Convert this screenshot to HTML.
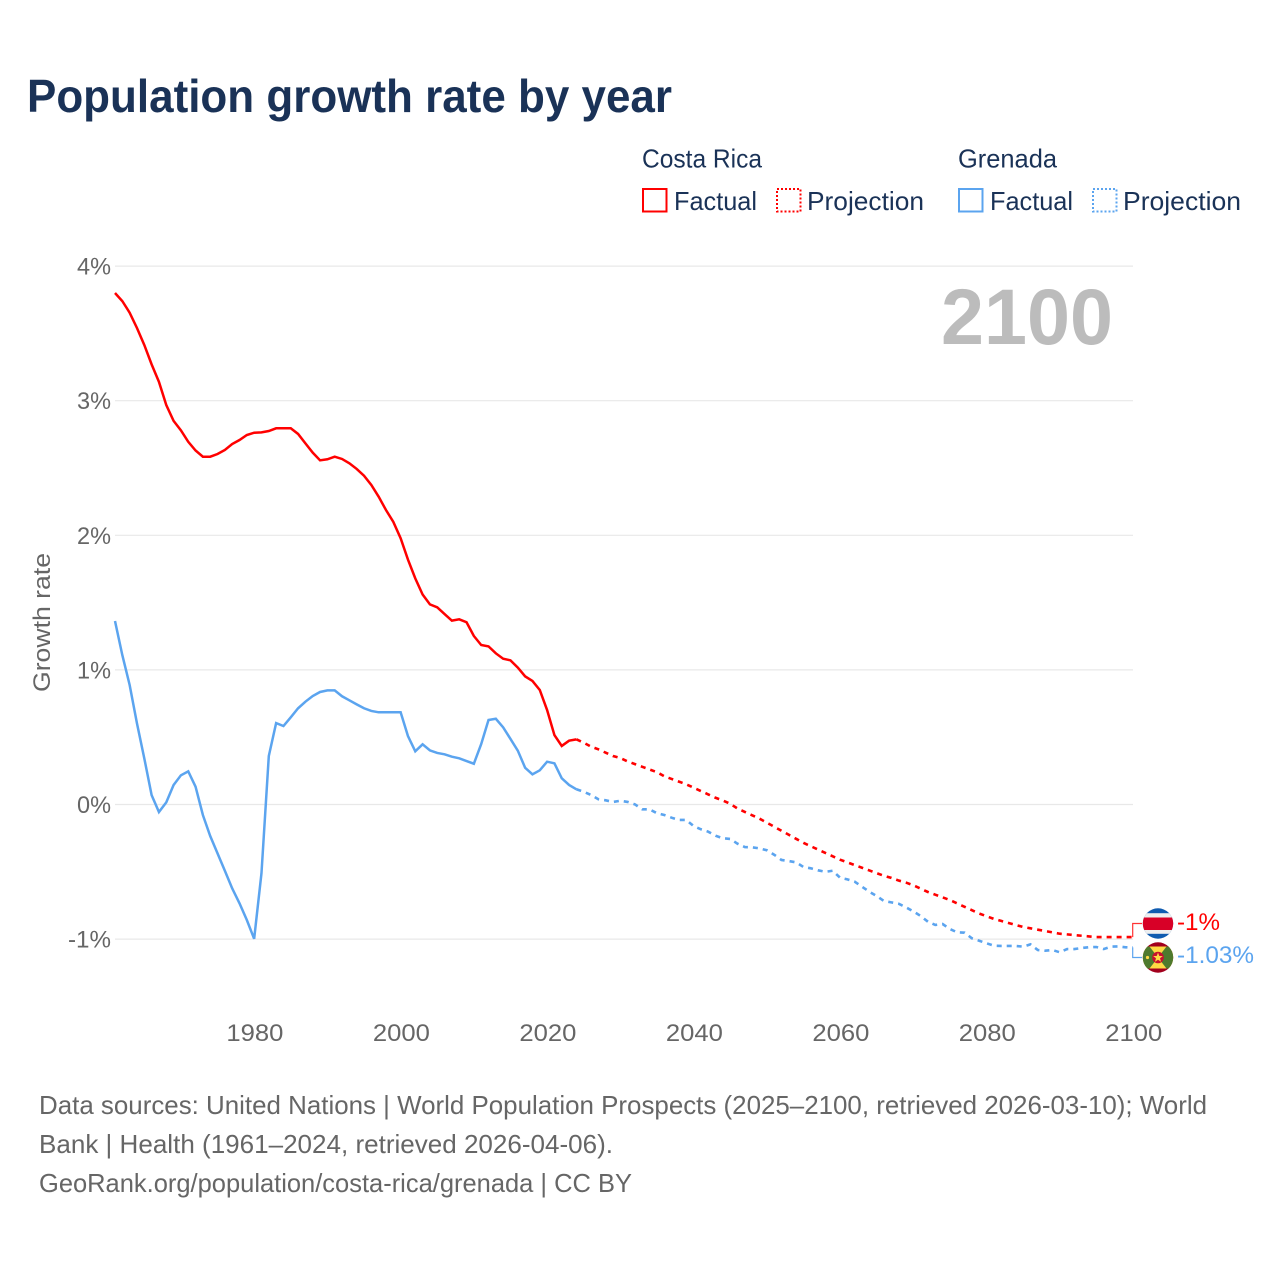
<!DOCTYPE html>
<html lang="en">
<head>
<meta charset="utf-8">
<title>Population growth rate by year</title>
<style>
html,body{margin:0;padding:0;background:#fff;}
svg{display:block;font-family:"Liberation Sans",sans-serif;}
</style>
</head>
<body>
<svg id="chart" width="1280" height="1280" viewBox="0 0 1280 1280" xmlns="http://www.w3.org/2000/svg">
  <rect width="1280" height="1280" fill="#ffffff"/>
  <text x="27" y="112" font-size="46" font-weight="700" fill="#1a3257" textLength="645" lengthAdjust="spacingAndGlyphs">Population growth rate by year</text>

  <g>
    <text x="642" y="167.5" font-size="26" fill="#1a3257" textLength="120" lengthAdjust="spacingAndGlyphs">Costa Rica</text>
    <text x="958" y="167.5" font-size="26" fill="#1a3257" textLength="99" lengthAdjust="spacingAndGlyphs">Grenada</text>
    <rect x="643" y="189" width="23.5" height="22.5" fill="none" stroke="#ff0000" stroke-width="2"/>
    <text x="674" y="210" font-size="26" fill="#1a3257" textLength="83" lengthAdjust="spacingAndGlyphs">Factual</text>
    <rect x="777" y="189" width="23.5" height="22.5" fill="none" stroke="#ff0000" stroke-width="2" stroke-dasharray="2 2"/>
    <text x="807" y="210" font-size="26" fill="#1a3257" textLength="117" lengthAdjust="spacingAndGlyphs">Projection</text>
    <rect x="959" y="189" width="23.5" height="22.5" fill="none" stroke="#5ba4ef" stroke-width="2"/>
    <text x="990" y="210" font-size="26" fill="#1a3257" textLength="83" lengthAdjust="spacingAndGlyphs">Factual</text>
    <rect x="1093" y="189" width="23.5" height="22.5" fill="none" stroke="#5ba4ef" stroke-width="2" stroke-dasharray="2 2"/>
    <text x="1123" y="210" font-size="26" fill="#1a3257" textLength="118" lengthAdjust="spacingAndGlyphs">Projection</text>
  </g>

  <text x="1113" y="344" text-anchor="end" font-size="79" font-weight="700" fill="#bcbcbc" textLength="172" lengthAdjust="spacingAndGlyphs">2100</text>
  <text transform="translate(50 692) rotate(-90)" font-size="24" fill="#666666" textLength="139" lengthAdjust="spacingAndGlyphs">Growth rate</text>

  <g id="grid"></g>
  <g id="yticks"></g>
  <g id="xticks"></g>
  <g id="series"></g>
  <g id="connectors"></g>

  <defs>
    <clipPath id="crClip"><circle cx="1158" cy="923.5" r="15.2"/></clipPath>
    <clipPath id="grClip"><circle cx="1158" cy="957.5" r="15.2"/></clipPath>
  </defs>
  <g clip-path="url(#crClip)">
    <rect x="1142" y="908" width="32" height="31" fill="#0f5bb0"/>
    <rect x="1142" y="913.2" width="32" height="20.6" fill="#eeeeee"/>
    <rect x="1142" y="917.5" width="32" height="12.5" fill="#d80027"/>
  </g>
  <g clip-path="url(#grClip)">
    <rect x="1142" y="942" width="32" height="31" fill="#a2001d"/>
    <rect x="1142" y="946.5" width="32" height="22" fill="#ffda44"/>
    <polygon points="1142,946.5 1149.5,946.5 1158,957.5 1149.5,968.5 1142,968.5" fill="#4e7a2e"/>
    <polygon points="1174,946.5 1166.5,946.5 1158,957.5 1166.5,968.5 1174,968.5" fill="#4e7a2e"/>
    <circle cx="1158" cy="957.5" r="5.8" fill="#c8102e"/>
    <polygon points="1158,952.6 1159.3,956 1162.8,956 1160,958.2 1161,961.8 1158,959.7 1155,961.8 1156,958.2 1153.2,956 1156.7,956" fill="#ffda44"/>
    <circle cx="1147.5" cy="957.5" r="1.6" fill="#ffda44"/>
  </g>

  <g>
    <text x="39" y="1114" font-size="26" fill="#666666" textLength="1168" lengthAdjust="spacingAndGlyphs">Data sources: United Nations | World Population Prospects (2025–2100, retrieved 2026-03-10); World</text>
    <text x="39" y="1153" font-size="26" fill="#666666" textLength="574" lengthAdjust="spacingAndGlyphs">Bank | Health (1961–2024, retrieved 2026-04-06).</text>
    <text x="39" y="1192" font-size="26" fill="#666666" textLength="593" lengthAdjust="spacingAndGlyphs">GeoRank.org/population/costa-rica/grenada | CC BY</text>
  </g>
</svg>

<script>
const yTickValues = [4, 3, 2, 1, 0, -1];
const xTickYears = [1980, 2000, 2020, 2040, 2060, 2080, 2100];
const factualStartYear = 1961;
const projectionStartYear = 2024;

const costaRicaFactual = [3.80,3.74,3.654,3.54,3.414,3.27,3.14,2.968,2.85,2.78,2.695,2.63,2.584,2.584,2.604,2.634,2.678,2.708,2.745,2.762,2.765,2.775,2.795,2.795,2.795,2.753,2.683,2.614,2.557,2.565,2.584,2.567,2.535,2.493,2.443,2.374,2.287,2.188,2.10,1.978,1.82,1.68,1.56,1.487,1.465,1.415,1.366,1.376,1.354,1.252,1.185,1.175,1.123,1.083,1.071,1.017,0.952,0.918,0.851,0.702,0.516,0.435,0.474,0.484];
const costaRicaProjection = [0.484,0.459,0.43,0.41,0.385,0.36,0.345,0.32,0.30,0.28,0.26,0.24,0.21,0.19,0.17,0.15,0.125,0.10,0.075,0.05,0.03,0.005,-0.03,-0.055,-0.08,-0.105,-0.135,-0.165,-0.195,-0.225,-0.255,-0.285,-0.31,-0.335,-0.36,-0.385,-0.41,-0.43,-0.45,-0.47,-0.49,-0.51,-0.53,-0.545,-0.565,-0.58,-0.60,-0.625,-0.65,-0.67,-0.69,-0.71,-0.735,-0.76,-0.785,-0.81,-0.83,-0.85,-0.865,-0.88,-0.895,-0.91,-0.92,-0.93,-0.94,-0.95,-0.96,-0.965,-0.97,-0.975,-0.98,-0.985,-0.985,-0.985,-0.985,-0.985,-0.985];

const grenadaFactual = [1.363,1.11,0.888,0.603,0.343,0.07,-0.056,0.016,0.145,0.217,0.246,0.132,-0.078,-0.234,-0.363,-0.492,-0.623,-0.734,-0.858,-0.998,-0.511,0.36,0.605,0.583,0.648,0.715,0.764,0.806,0.836,0.848,0.848,0.804,0.774,0.744,0.715,0.695,0.685,0.685,0.685,0.685,0.509,0.395,0.447,0.402,0.383,0.373,0.355,0.343,0.323,0.303,0.449,0.628,0.637,0.573,0.487,0.40,0.273,0.224,0.254,0.318,0.306,0.195,0.145,0.113];
const grenadaProjection = [0.113,0.095,0.071,0.039,0.031,0.019,0.028,0.019,0.001,-0.036,-0.036,-0.065,-0.078,-0.098,-0.115,-0.115,-0.16,-0.184,-0.202,-0.232,-0.251,-0.256,-0.291,-0.316,-0.318,-0.326,-0.34,-0.373,-0.412,-0.42,-0.43,-0.464,-0.474,-0.489,-0.50,-0.492,-0.544,-0.556,-0.573,-0.611,-0.648,-0.68,-0.717,-0.727,-0.737,-0.764,-0.794,-0.828,-0.871,-0.895,-0.888,-0.925,-0.95,-0.952,-0.994,-1.012,-1.031,-1.049,-1.051,-1.051,-1.051,-1.056,-1.039,-1.081,-1.086,-1.081,-1.098,-1.074,-1.074,-1.066,-1.06,-1.059,-1.074,-1.056,-1.054,-1.061,-1.062];

const costaRicaEndLabel = "-1%";
const grenadaEndLabel = "-1.03%";

const SVG_NS = "http://www.w3.org/2000/svg";
const xScale = function (year) { return 115 + (year - 1961) * (1018 / 139); };
const yScale = function (value) { return 804.5 - value * 134.6; };

function make(tag, parentId) {
  const el = document.createElementNS(SVG_NS, tag);
  document.getElementById(parentId).appendChild(el);
  return el;
}

function linePoints(values, startYear) {
  return values.map(function (v, i) {
    return xScale(startYear + i).toFixed(2) + "," + yScale(v).toFixed(2);
  }).join(" ");
}

yTickValues.forEach(function (tick) {
  const line = make("line", "grid");
  line.setAttribute("x1", xScale(1961));
  line.setAttribute("x2", xScale(2100));
  line.setAttribute("y1", yScale(tick));
  line.setAttribute("y2", yScale(tick));
  line.setAttribute("stroke", "#e8e8e8");
  line.setAttribute("stroke-width", "1.2");
  
  

  const label = make("text", "yticks");
  label.textContent = tick + "%";
  label.setAttribute("x", 111);
  label.setAttribute("y", yScale(tick) + 8.5);
  label.setAttribute("text-anchor", "end");
  label.setAttribute("font-size", "24");
  label.setAttribute("fill", "#666666");
  label.setAttribute("textLength", tick < 0 ? 43 : 34);
  label.setAttribute("lengthAdjust", "spacingAndGlyphs");
  
  
});

xTickYears.forEach(function (year) {
  const label = make("text", "xticks");
  label.textContent = year;
  label.setAttribute("x", xScale(year) + 0.8);
  label.setAttribute("y", 1041);
  label.setAttribute("text-anchor", "middle");
  label.setAttribute("font-size", "24");
  label.setAttribute("fill", "#666666");
  label.setAttribute("textLength", 57);
  label.setAttribute("lengthAdjust", "spacingAndGlyphs");
  
  
});

const crFactualLine = make("polyline", "series");
crFactualLine.setAttribute("points", linePoints(costaRicaFactual, factualStartYear));
crFactualLine.setAttribute("fill", "none");
crFactualLine.setAttribute("stroke", "#ff0000");
crFactualLine.setAttribute("stroke-width", "2.5");



const crProjectionLine = make("polyline", "series");
crProjectionLine.setAttribute("points", linePoints(costaRicaProjection, projectionStartYear));
crProjectionLine.setAttribute("fill", "none");
crProjectionLine.setAttribute("stroke", "#ff0000");
crProjectionLine.setAttribute("stroke-width", "2.6");
crProjectionLine.setAttribute("stroke-dasharray", "5 5");



const grFactualLine = make("polyline", "series");
grFactualLine.setAttribute("points", linePoints(grenadaFactual, factualStartYear));
grFactualLine.setAttribute("fill", "none");
grFactualLine.setAttribute("stroke", "#5ba4ef");
grFactualLine.setAttribute("stroke-width", "2.5");



const grProjectionLine = make("polyline", "series");
grProjectionLine.setAttribute("points", linePoints(grenadaProjection, projectionStartYear));
grProjectionLine.setAttribute("fill", "none");
grProjectionLine.setAttribute("stroke", "#5ba4ef");
grProjectionLine.setAttribute("stroke-width", "2.6");
grProjectionLine.setAttribute("stroke-dasharray", "5 5");



const crEndY = yScale(costaRicaProjection[costaRicaProjection.length - 1]);
const grEndY = yScale(grenadaProjection[grenadaProjection.length - 1]);

const crConnector = make("polyline", "connectors");
crConnector.setAttribute("points", "1132.7," + crEndY.toFixed(1) + " 1132.7,923.5 1142,923.5");
crConnector.setAttribute("fill", "none");
crConnector.setAttribute("stroke", "#ff0000");
crConnector.setAttribute("stroke-opacity", "0.8");
crConnector.setAttribute("stroke-width", "1.2");



const grConnector = make("polyline", "connectors");
grConnector.setAttribute("points", "1132.7," + grEndY.toFixed(1) + " 1132.7,957.5 1142,957.5");
grConnector.setAttribute("fill", "none");
grConnector.setAttribute("stroke", "#5ba4ef");
grConnector.setAttribute("stroke-width", "1.2");



const crEnd = make("text", "connectors");
crEnd.textContent = costaRicaEndLabel;
crEnd.setAttribute("x", 1177);
crEnd.setAttribute("y", 930);
crEnd.setAttribute("font-size", "24");
crEnd.setAttribute("fill", "#ff0000");
crEnd.setAttribute("textLength", 43);
crEnd.setAttribute("lengthAdjust", "spacingAndGlyphs");



const grEnd = make("text", "connectors");
grEnd.textContent = grenadaEndLabel;
grEnd.setAttribute("x", 1177);
grEnd.setAttribute("y", 963);
grEnd.setAttribute("font-size", "24");
grEnd.setAttribute("fill", "#5ba4ef");
grEnd.setAttribute("textLength", 77);
grEnd.setAttribute("lengthAdjust", "spacingAndGlyphs");


</script>
</body>
</html>
